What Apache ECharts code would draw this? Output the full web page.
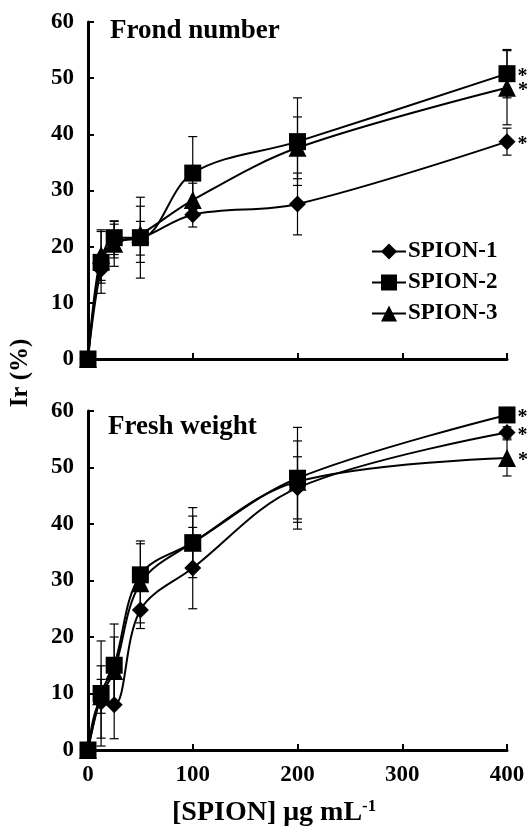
<!DOCTYPE html>
<html>
<head>
<meta charset="utf-8">
<script src="https://cdn.jsdelivr.net/npm/echarts@6/dist/echarts.min.js"></script>
<style>html,body{margin:0;padding:0;background:#fff}#c{width:528px;height:832px}</style>
</head>
<body>
<div id="c"></div>
<script>
// ---- data ----
const conc = [0, 12.5, 25, 50, 100, 200, 400];
const seriesNames = ['SPION-1', 'SPION-2', 'SPION-3'];
const xTicks = [0, 100, 200, 300, 400];
const yTicks = [0, 10, 20, 30, 40, 50, 60];

// Frond number panel
const frond1 = [0, 16.0, 21.0, 21.5, 25.7, 27.6, 38.7];
const frond2 = [0, 17.2, 21.6, 21.6, 33.1, 38.7, 50.8];
const frond3 = [0, 18.5, 20.5, 22.2, 28.3, 37.6, 48.3];
const frondErr1 = [0, 2.5, 3.0, 3.0, 2.2, 5.5, 2.4];
const frondErr2 = [0, 5.5, 3.0, 7.2, 6.5, 7.8, 4.3];
const frondErr3 = [0, 4.5, 4.0, 5.0, 3.0, 5.5, 6.6];

// Fresh weight panel
const fresh1 = [0, 8.5, 8.0, 24.8, 32.2, 46.4, 56.2];
const fresh2 = [0, 10.0, 15.0, 31.0, 36.7, 48.1, 59.3];
const fresh3 = [0, 9.5, 14.0, 29.5, 36.7, 47.5, 51.7];
const freshErr1 = [0, 6.4, 6.0, 3.3, 7.2, 5.5, 1.0];
const freshErr2 = [0, 9.3, 7.3, 6.0, 6.2, 9.0, 1.0];
const freshErr3 = [0, 3.0, 6.0, 7.0, 4.7, 7.2, 3.2];

const panelTitles = ['Frond number', 'Fresh weight'];
const xTitle = '[SPION] μg mL';
const xTitleSup = '-1';
const yTitle = 'Ir (%)';
const sigMark = '*';

// ---- chart ----
const FONT = '"Liberation Serif", "Times New Roman", serif';
const symbols = ['diamond', 'rect', 'triangle'];
const symSizes = [17, 17, 18];

const chart = echarts.init(document.getElementById('c'), null, {renderer: 'canvas'});

function lineSeries(name, idx, vals, panel) {
  const data = conc.map((x, i) => {
    const item = {value: [x, vals[i]]};
    if (i === conc.length - 1) {
      item.label = {show: true, formatter: sigMark, position: 'right', distance: 2, offset: [0, 3],
        color: '#000', fontSize: 20, fontWeight: 'bold', fontFamily: FONT};
    }
    return item;
  });
  return {
    type: 'line', name: name, xAxisIndex: panel, yAxisIndex: panel,
    data: data, smooth: 0.35, symbol: symbols[idx], symbolSize: symSizes[idx],
    showAllSymbol: true,
    lineStyle: {color: '#000', width: 2}, itemStyle: {color: '#000'},
    z: 3, animation: false
  };
}

function errSeries(vals, errs, panel) {
  return {
    type: 'custom', xAxisIndex: panel, yAxisIndex: panel,
    data: conc.map((x, i) => [x, vals[i] - errs[i], vals[i] + errs[i]]),
    encode: {x: 0, y: [1, 2]},
    silent: true, z: 1, animation: false,
    renderItem: function (params, api) {
      const x = api.value(0);
      const lo = api.coord([x, api.value(1)]);
      const hi = api.coord([x, api.value(2)]);
      const w = 4.5;
      const st = {stroke: '#000', lineWidth: 1.2};
      return {type: 'group', children: [
        {type: 'line', shape: {x1: lo[0], y1: lo[1], x2: hi[0], y2: hi[1]}, style: st},
        {type: 'line', shape: {x1: lo[0] - w, y1: lo[1], x2: lo[0] + w, y2: lo[1]}, style: st},
        {type: 'line', shape: {x1: hi[0] - w, y1: hi[1], x2: hi[0] + w, y2: hi[1]}, style: st}
      ]};
    }
  };
}

const axisText = {color: '#000', fontSize: 23, fontWeight: 'bold', fontFamily: FONT};

function xAxis(panel, showLabels) {
  return {
    type: 'value', gridIndex: panel, min: xTicks[0], max: xTicks[xTicks.length - 1], interval: 100,
    axisLine: {show: true, lineStyle: {color: '#000', width: 3}},
    axisTick: {show: true, inside: true, length: 6, lineStyle: {color: '#000', width: 2}},
    axisLabel: Object.assign({show: showLabels, margin: 14}, axisText),
    splitLine: {show: false}
  };
}
function yAxis(panel) {
  return {
    type: 'value', gridIndex: panel, min: yTicks[0], max: yTicks[yTicks.length - 1], interval: 10,
    axisLine: {show: true, lineStyle: {color: '#000', width: 3}},
    axisTick: {show: true, inside: true, length: 6, lineStyle: {color: '#000', width: 2}},
    axisLabel: Object.assign({margin: 14}, axisText),
    splitLine: {show: false}
  };
}

const option = {
  backgroundColor: '#fff',
  animation: false,
  grid: [
    {left: 88, right: 21, top: 22, height: 337},
    {left: 88, right: 21, top: 411, height: 339}
  ],
  xAxis: [xAxis(0, false), xAxis(1, true)],
  yAxis: [yAxis(0), yAxis(1)],
  legend: {
    data: seriesNames, orient: 'vertical', left: 366, top: 235,
    itemWidth: 34, itemHeight: 20, itemGap: 8,
    lineStyle: {width: 2, color: '#000'},
    textStyle: {color: '#000', fontSize: 23, fontWeight: 'bold', fontFamily: FONT, padding: [0, 0, 0, -3]}
  },
  graphic: [
    {type: 'text', left: 110, top: 18, style: {text: panelTitles[0], fill: '#000', fontSize: 27, fontWeight: 'bold', fontFamily: FONT}},
    {type: 'text', left: 108, top: 414, style: {text: panelTitles[1], fill: '#000', fontSize: 27, fontWeight: 'bold', fontFamily: FONT}},
    {type: 'text', left: 172, top: 798, style: {
      text: '{m|' + xTitle + '}{s|' + xTitleSup + '}',
      rich: {
        m: {fontSize: 28, fontWeight: 'bold', fontFamily: FONT, fill: '#000', color: '#000'},
        s: {fontSize: 17, fontWeight: 'bold', fontFamily: FONT, fill: '#000', color: '#000', verticalAlign: 'top', padding: [0, 0, 12, 0]}
      }
    }},
    {type: 'text', x: 21, y: 373, rotation: Math.PI / 2, style: {
      text: yTitle, fill: '#000', fontSize: 25, fontWeight: 'bold', fontFamily: FONT,
      align: 'center', verticalAlign: 'middle'
    }}
  ],
  series: [
    errSeries(frond1, frondErr1, 0), errSeries(frond2, frondErr2, 0), errSeries(frond3, frondErr3, 0),
    errSeries(fresh1, freshErr1, 1), errSeries(fresh2, freshErr2, 1), errSeries(fresh3, freshErr3, 1),
    lineSeries(seriesNames[0], 0, frond1, 0), lineSeries(seriesNames[1], 1, frond2, 0), lineSeries(seriesNames[2], 2, frond3, 0),
    lineSeries(seriesNames[0], 0, fresh1, 1), lineSeries(seriesNames[1], 1, fresh2, 1), lineSeries(seriesNames[2], 2, fresh3, 1)
  ]
};
chart.setOption(option);
</script>
</body>
</html>
